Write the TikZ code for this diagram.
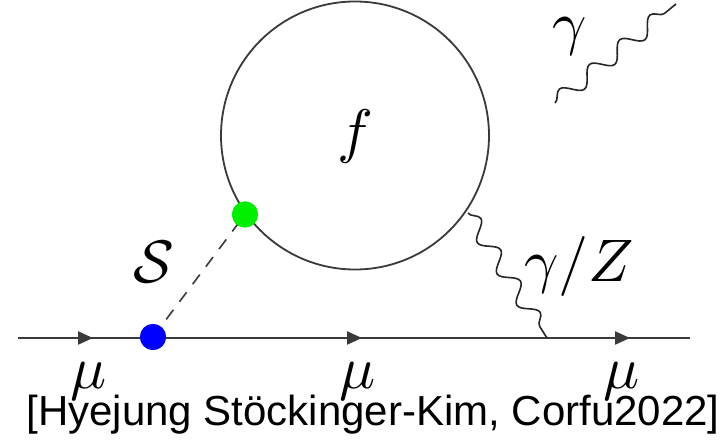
\documentclass[tikz,border=0pt]{standalone}
\usepackage{fontspec}
\newfontfamily\capfont{Liberation Sans}
\usetikzlibrary{arrows.meta,decorations.pathmorphing,decorations.markings}
\definecolor{linegray}{HTML}{3A3A3A}
\definecolor{dotgreen}{HTML}{00F000}
\newcommand{\biglab}[1]{\scalebox{6}{$#1$}}
\tikzset{
  fermion/.style={draw=linegray,line width=2.2pt},
  loopline/.style={draw=linegray,line width=1.8pt},
  photonline/.style={draw=black!85,line width=1.6pt,decorate,
    decoration={snake,amplitude=8pt,segment length=#1}},
  scalarline/.style={draw=linegray,line width=1.6pt,dash pattern=on 12pt off 10pt},
  vertexdot/.style={circle,inner sep=0pt,minimum size=26pt,fill=#1},
  mathlabel/.style={inner sep=0pt,anchor=center},
  arrowmark/.style={postaction={decorate},decoration={markings,
    mark=at position 75pt with {\arrow[linegray]{Triangle[length=15pt,width=13pt]}},
    mark=at position 344pt with {\arrow[linegray]{Triangle[length=15pt,width=13pt]}},
    mark=at position 612pt with {\arrow[linegray]{Triangle[length=15pt,width=13pt]}}}}
}
\begin{document}
\begin{tikzpicture}[x=1pt,y=-1pt]
\useasboundingbox[fill=white] (0,0) rectangle (726,446);
% coordinates
\coordinate (L) at (18,338);
\coordinate (R) at (690,338);
\coordinate (V2) at (547,338);
\coordinate (C) at (355,135.5);
\coordinate (P1) at (468,213);
\coordinate (G1) at (555,103);
\coordinate (G2) at (676,4);
% loop
\draw[loopline] (C) circle[radius=134pt];
% fermion line
\draw[fermion,arrowmark] (L) -- (R);
% scalar
\node[vertexdot=blue] (V1) at (153,337) {};
\node[vertexdot=dotgreen] (VG) at (245,214.5) {};
\draw[scalarline] (V1.center) -- (VG.center);
\node[vertexdot=blue] at (V1) {};
\node[vertexdot=dotgreen] at (VG) {};
% photons
\draw[photonline=37pt] (P1) -- (V2);
\draw[photonline=39pt] (G1) -- (G2);
% labels
\node[mathlabel] (lg) at (570,36) {\biglab{\gamma}};
\node[mathlabel] (lf) at (355,137) {\biglab{f}};
\node[mathlabel] (lS) at (154,262) {\biglab{\mathcal{S}}};
\node[mathlabel] (lgz) at (579,267) {\biglab{\gamma/Z}};
\node[mathlabel] (m1) at (89,381) {\biglab{\mu}};
\node[mathlabel] (m2) at (358,381) {\biglab{\mu}};
\node[mathlabel] (m3) at (622,381) {\biglab{\mu}};
\node[inner sep=0pt,font=\capfont\fontsize{42}{50}\selectfont] (cap) at (373,415) {[Hyejung Stöckinger-Kim, Corfu2022]};
\end{tikzpicture}
\end{document}
